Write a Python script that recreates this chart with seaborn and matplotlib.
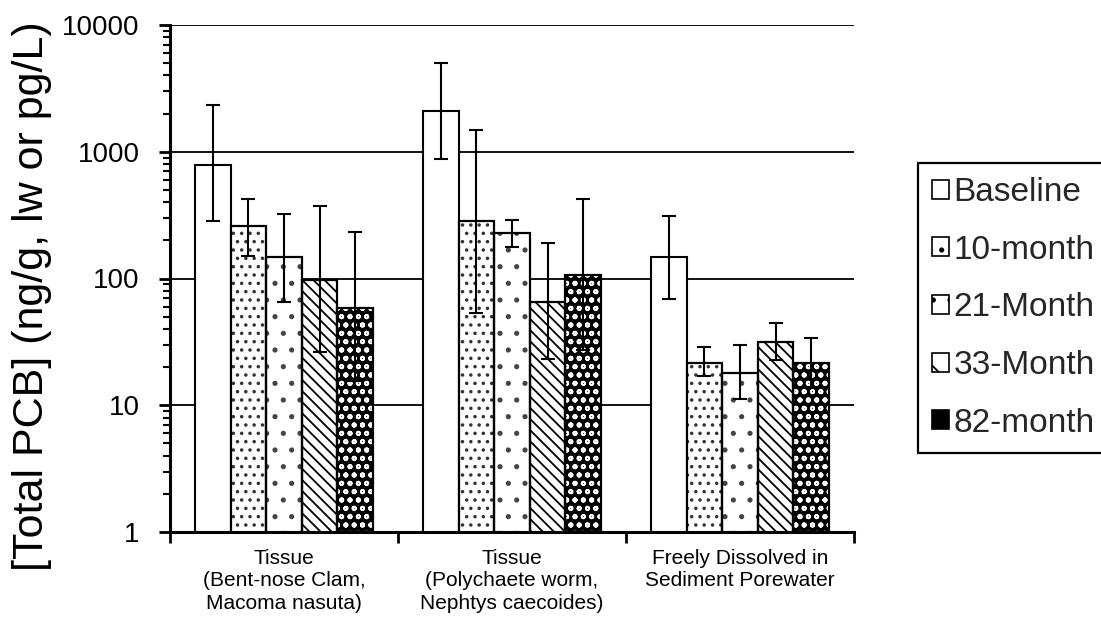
import numpy as np
import pandas as pd
import matplotlib
matplotlib.use("Agg")
import matplotlib.pyplot as plt
from matplotlib.patches import Patch, Rectangle
import seaborn as sns

# -------------------------------------------------
# Data
# -------------------------------------------------
categories = [
    "Tissue\n(Bent-nose Clam,\nMacoma nasuta)",
    "Tissue\n(Polychaete worm,\nNephtys caecoides)",
    "Freely Dissolved in\nSediment Porewater",
]
periods = ["Baseline", "10-month", "21-Month", "33-Month", "82-month"]

baseline = [790, 2100, 147]
month10 = [258, 284, 21.7]
month21 = [147, 228, 18]
month33 = [98, 65, 31.6]
month82 = [59, 107, 21.7]

baseline_hi = [2340, 5000, 311]
month10_hi = [424, 1485, 28.8]
month21_hi = [321, 291, 29.7]
month33_hi = [375, 190, 44.8]
month82_hi = [234, 426, 33.8]

baseline_lo = [284, 872, 69]
month10_lo = [150, 53, 16.9]
month21_lo = [65.6, 177, 11.3]
month33_lo = [26.3, 23.2, 22.6]
month82_lo = [15.5, 27.3, 13.6]

means = [baseline, month10, month21, month33, month82]
highs = [baseline_hi, month10_hi, month21_hi, month33_hi, month82_hi]
lows = [baseline_lo, month10_lo, month21_lo, month33_lo, month82_lo]

rows = []
for period, vals in zip(periods, means):
    for cat, v in zip(categories, vals):
        rows.append({"category": cat, "period": period, "value": v})
df = pd.DataFrame(rows)

# -------------------------------------------------
# Style
# -------------------------------------------------
sns.set_theme(style="ticks")
plt.rcParams["font.family"] = ["Liberation Sans", "DejaVu Sans"]
plt.rcParams["hatch.linewidth"] = 1.3

# hatch, face colour, hatch colour per period
styles = {
    "Baseline": ("", "white", "black"),
    "10-month": ("..", "white", "#333333"),
    "21-Month": (".", "white", "#444444"),
    "33-Month": ("\\\\\\", "white", "black"),
    "82-month": ("oo", "black", "white"),
}

fig = plt.figure(figsize=(11.01, 6.18), dpi=100)
ax = fig.add_axes([170 / 1101, 86 / 618, 684 / 1101, 507 / 618])

sns.barplot(
    data=df,
    x="category",
    y="value",
    hue="period",
    order=categories,
    hue_order=periods,
    palette={p: "white" for p in periods},
    saturation=1,
    width=0.78,
    errorbar=None,
    edgecolor="black",
    linewidth=1.5,
    legend=False,
    ax=ax,
)

ax.set_yscale("log")

for period, cont, hi, lo in zip(periods, ax.containers, highs, lows):
    hatch, face, hcol = styles[period]
    xs = []
    ys = []
    for p in cont:
        p.set_facecolor(face)
        if hatch:
            p.set_hatch(hatch)
            p.set_edgecolor(hcol)
            p.set_linewidth(0)
            # black outline on top
            ax.add_patch(Rectangle(p.get_xy(), p.get_width(), p.get_height(),
                                   fill=False, edgecolor="black", linewidth=1.6,
                                   zorder=p.get_zorder() + 0.1))
        xs.append(p.get_x() + p.get_width() / 2)
        ys.append(p.get_height())
    ys = np.array(ys)
    yerr = [ys - np.array(lo), np.array(hi) - ys]
    ax.errorbar(xs, ys, yerr=yerr, fmt="none", ecolor="black",
                elinewidth=1.5, capsize=5, capthick=1.5, zorder=5)

ax.set_ylim(1, 10000)
ax.set_xlim(-0.5, 2.5)

# gridlines
ax.yaxis.grid(True, which="major", color="black", linewidth=1.3)
ax.xaxis.grid(False)
ax.set_axisbelow(True)

# spines
sns.despine(ax=ax, top=True, right=True)
ax.spines["left"].set_linewidth(2.2)
ax.spines["bottom"].set_linewidth(2.2)
ax.spines["left"].set_color("black")
ax.spines["bottom"].set_color("black")

# ticks
ax.set_yticks([1, 10, 100, 1000, 10000])
ax.set_yticklabels(["1", "10", "100", "1000", "10000"])
ax.tick_params(axis="y", which="major", direction="out", length=8, width=2,
               labelsize=20, pad=14, color="black", labelcolor="black")
ax.tick_params(axis="y", which="minor", direction="out", length=5, width=1.5,
               color="black")
ax.set_xticks([0, 1, 2])
ax.set_xticklabels(categories)
ax.set_xticks([-0.5, 0.5, 1.5, 2.5], minor=True)
ax.tick_params(axis="x", which="major", length=0, labelsize=15, pad=12,
               labelcolor="black")
ax.tick_params(axis="x", which="minor", direction="out", length=8, width=2,
               color="black")
for lab in ax.get_xticklabels():
    lab.set_linespacing(1.25)

ax.set_xlabel("")
ax.set_ylabel("[Total PCB] (ng/g, lw or pg/L)", fontsize=31, color="black")
ax.yaxis.set_label_coords(-0.172, 0.466)

# legend
handles = []
for period in periods:
    hatch, face, hcol = styles[period]
    if period == "82-month":
        handles.append(Patch(facecolor="black", edgecolor="black", linewidth=1.2))
    else:
        handles.append(Patch(facecolor=face, edgecolor="black", linewidth=1.2,
                             hatch=hatch[:1]))
leg = fig.legend(
    handles,
    periods,
    loc="upper left",
    bbox_to_anchor=(918 / 1101, 1 - 163 / 618),
    bbox_transform=fig.transFigure,
    borderaxespad=0,
    fontsize=24,
    handlelength=0.5,
    handleheight=0.5,
    handletextpad=0.15,
    labelspacing=0.8,
    borderpad=0.42,
    fancybox=False,
    framealpha=1,
    edgecolor="black",
)
leg.get_frame().set_linewidth(1.6)

fig.savefig("out.png", dpi=100)
